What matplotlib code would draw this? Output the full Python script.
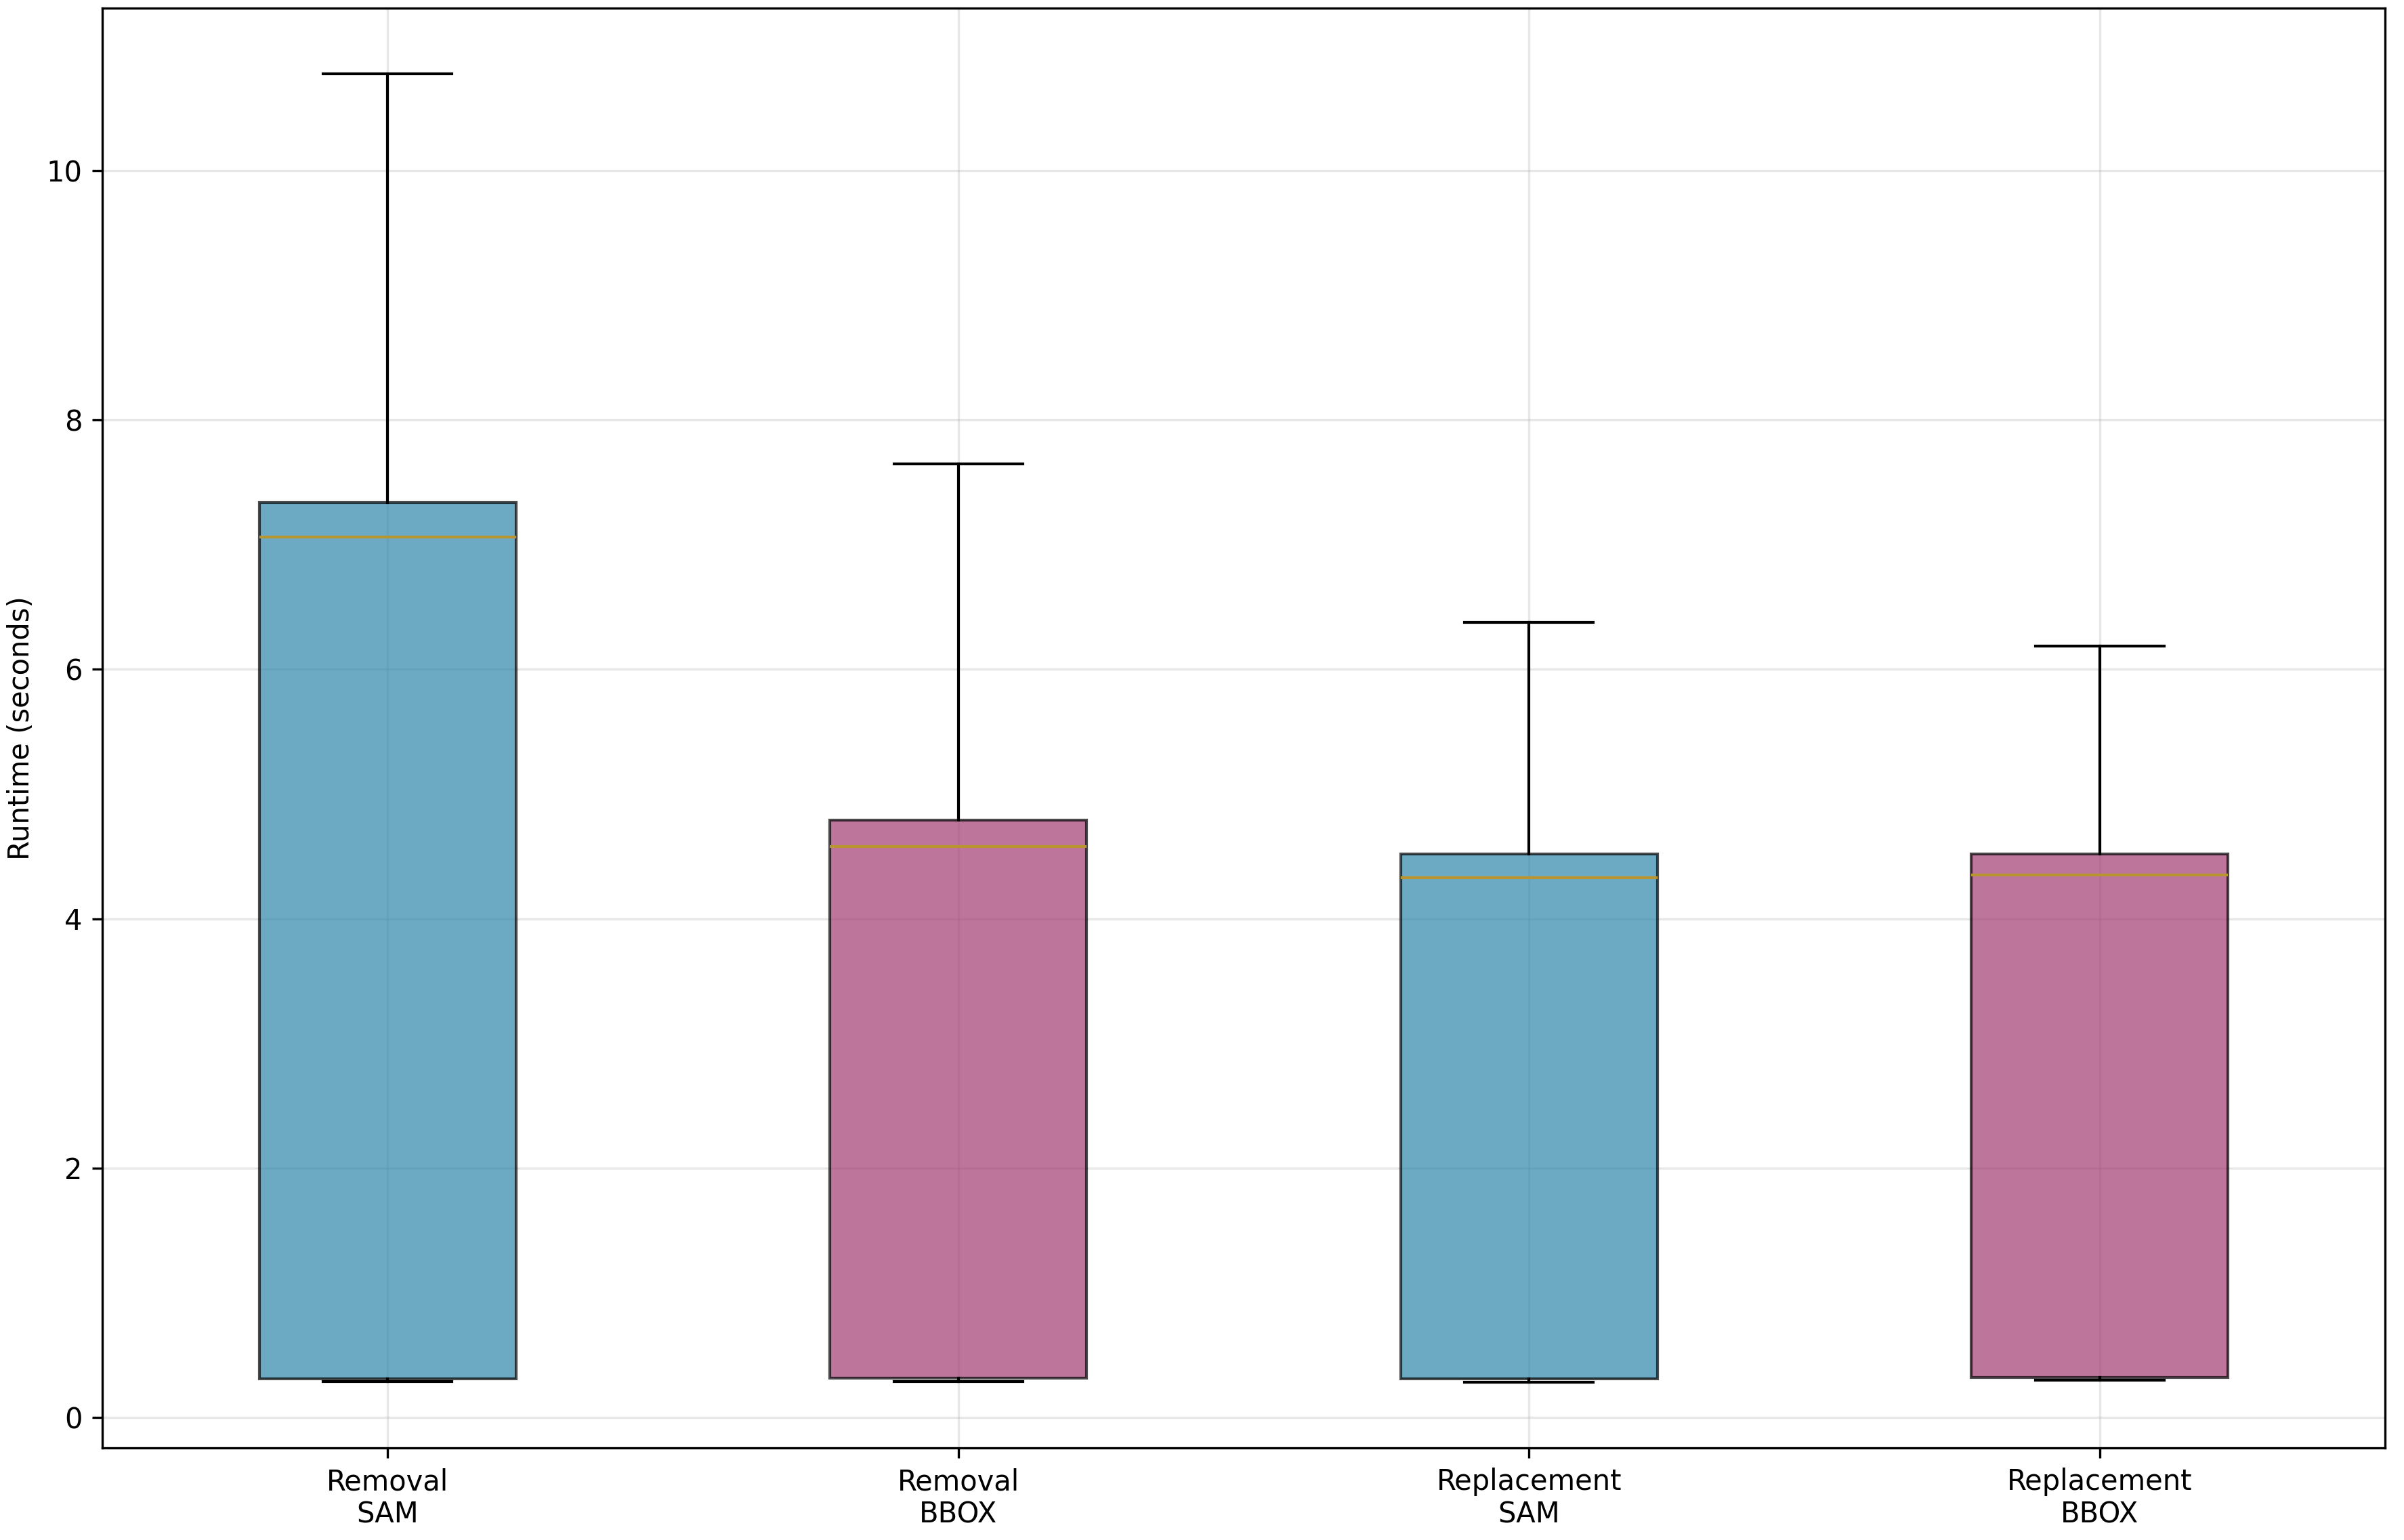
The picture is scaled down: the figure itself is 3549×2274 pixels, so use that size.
import matplotlib
matplotlib.use("Agg")
import matplotlib.pyplot as plt

categories = ["Removal\nSAM", "Removal\nBBOX", "Replacement\nSAM", "Replacement\nBBOX"]
whislo = [0.29, 0.29, 0.28, 0.30]
q1 = [0.31, 0.315, 0.31, 0.32]
med = [7.06, 4.58, 4.33, 4.35]
q3 = [7.34, 4.79, 4.52, 4.52]
whishi = [10.78, 7.65, 6.38, 6.19]
colors = ["#2E86AB", "#A23B72", "#2E86AB", "#A23B72"]

stats = []
for i, lab in enumerate(categories):
    stats.append(dict(label=lab, whislo=whislo[i], q1=q1[i], med=med[i],
                      q3=q3[i], whishi=whishi[i], fliers=[]))

fig = plt.figure(figsize=(3549/300, 2274/300), dpi=300)
ax = fig.add_axes([151/3549, 1-2138/2274, (3521-151)/3549, (2138-12)/2274])

bp = ax.bxp(stats, widths=0.45, patch_artist=True, showfliers=False,
            medianprops=dict(color="#B9952F", linewidth=1.0),
            whiskerprops=dict(color="black", linewidth=1.0),
            capprops=dict(color="black", linewidth=1.0),
            boxprops=dict(linewidth=1.0))
for patch, c in zip(bp["boxes"], colors):
    patch.set_facecolor(c)
    patch.set_edgecolor("black")
    patch.set_alpha(0.7)

ax.grid(True, alpha=0.3)
ax.set_ylabel("Runtime (seconds)", fontsize=10)
ax.tick_params(labelsize=10)

fig.savefig("out.png", dpi=300)
